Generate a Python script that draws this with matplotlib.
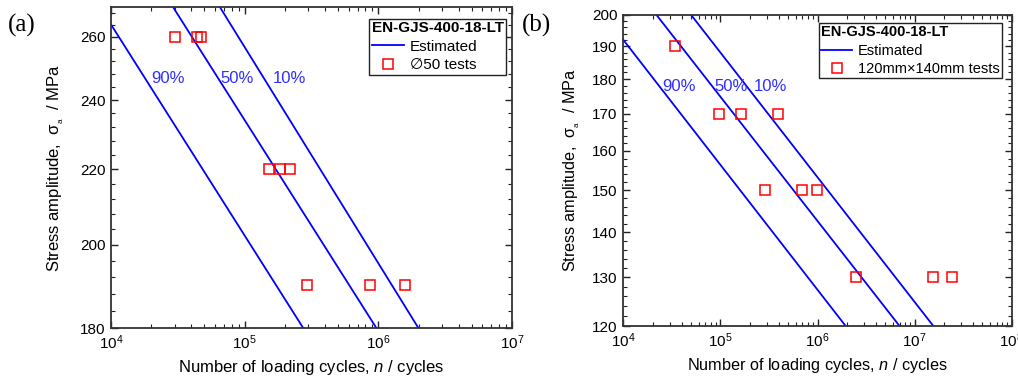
import math
import matplotlib
matplotlib.use("Agg")
import matplotlib.pyplot as plt
from matplotlib.ticker import FixedLocator, MultipleLocator, NullFormatter, LogLocator, FuncFormatter
from matplotlib.lines import Line2D

plt.rcParams['font.family'] = ['Liberation Sans', 'DejaVu Sans']
plt.rcParams['mathtext.fontset'] = 'custom'
plt.rcParams['mathtext.rm'] = 'Liberation Sans'
plt.rcParams['mathtext.it'] = 'Liberation Sans:italic'
plt.rcParams['mathtext.bf'] = 'Liberation Sans:bold'

# ---------------- data ----------------
material = "EN-GJS-400-18-LT"
curve_labels = ["90%", "50%", "10%"]

# panel (a)
a_curve_N = [[1.0e4, 2.75e5], [2.9e4, 9.7e5], [6.5e4, 2.0e6]]
a_curve_S = [[264, 180], [270, 180], [270, 180]]
a_test_N = [3.0e4, 4.4e4, 4.7e4, 1.52e5, 1.84e5, 2.18e5, 2.95e5, 8.7e5, 1.57e6]
a_test_S = [260, 260, 260, 220, 220, 220, 190, 190, 190]
a_test_label = "\u220550 tests"
a_yticks = [180, 200, 220, 240, 260]

# panel (b)
b_curve_N = [[1.0e4, 1.95e6], [2.2e4, 7.0e6], [5.0e4, 1.56e7]]
b_curve_S = [[192, 120], [200, 120], [200, 120]]
b_test_N = [3.4e4, 9.6e4, 1.62e5, 3.9e5, 2.86e5, 7.0e5, 9.9e5, 2.5e6, 1.55e7, 2.4e7]
b_test_S = [190, 170, 170, 170, 150, 150, 150, 130, 130, 130]
b_test_label = "120mm\u00d7140mm tests"
b_yticks = [120, 130, 140, 150, 160, 170, 180, 190, 200]

# label positions (data coords)
a_label_pos = [(2.66e4, 246.5), (8.8e4, 246.5), (2.17e5, 246.5)]
b_label_pos = [(3.75e4, 177.8), (1.29e5, 177.8), (3.24e5, 177.8)]

LINE_C = '#0000ff'
TXT_C = '#2f2fff'
MK_C = '#ff0000'

fig = plt.figure(figsize=(10.18, 3.78), dpi=100)
axA = fig.add_axes([111/1018, 1-328.3/378, (512-111)/1018, (328.3-6.7)/378])
axB = fig.add_axes([623.3/1018, 1-326/378, (1011.7-623.3)/1018, (326-15)/378])


def logfmt(x, pos):
    e = int(round(math.log10(x)))
    return r'$\mathregular{10^{%d}}$' % e


def style(ax, xlim, ylim, yticks, yminor, ylabelpad, fs_tick, fs_label):
    ax.set_xscale('log')
    ax.set_yscale('log')
    ax.set_xlim(*xlim)
    ax.set_ylim(*ylim)
    ax.xaxis.set_major_locator(LogLocator(base=10, numticks=10))
    ax.xaxis.set_minor_locator(LogLocator(base=10, subs=range(2, 10), numticks=20))
    ax.xaxis.set_major_formatter(FuncFormatter(logfmt))
    ax.xaxis.set_minor_formatter(NullFormatter())
    ax.yaxis.set_major_locator(FixedLocator(yticks))
    ax.yaxis.set_minor_locator(MultipleLocator(yminor))
    ax.yaxis.set_major_formatter(FuncFormatter(lambda v, p: '%d' % v))
    ax.yaxis.set_minor_formatter(NullFormatter())
    ax.tick_params(which='both', direction='in', top=True, right=True, colors='#222222',
                   labelcolor='black', labelsize=fs_tick)
    ax.tick_params(which='major', length=5, width=1.0, pad=4)
    ax.tick_params(which='minor', length=3, width=0.8)
    for s in ax.spines.values():
        s.set_linewidth(1.3)
        s.set_color('#333333')
    ax.set_xlabel(r'Number of loading cycles, $\mathit{n}$ / cycles', fontsize=fs_label, labelpad=4)
    ax.set_ylabel('Stress amplitude,  \u03c3$_{_\\mathregular{a}}$  / MPa', fontsize=fs_label,
                  labelpad=ylabelpad)


def draw(ax, cN, cS, tN, tS, tlabel, lpos, legend_anchor, fs_leg):
    for n, s in zip(cN, cS):
        ax.plot(n, s, color=LINE_C, lw=1.3, zorder=2)
    ax.plot(tN, tS, linestyle='none', marker='s', markersize=7.5, markerfacecolor='none',
            markeredgecolor=MK_C, markeredgewidth=1.1, zorder=3)
    for lab, (x, y) in zip(curve_labels, lpos):
        ax.text(x, y, lab, color=TXT_C, fontsize=12, ha='center', va='center', zorder=4)
    handles = [Line2D([], [], color=LINE_C, lw=1.3),
               Line2D([], [], linestyle='none', marker='s', markersize=7.5,
                      markerfacecolor='none', markeredgecolor=MK_C, markeredgewidth=1.1)]
    leg = ax.legend(handles, ['Estimated', tlabel], title=material, loc='upper right',
                    bbox_to_anchor=legend_anchor, borderaxespad=0, fancybox=False,
                    framealpha=1, edgecolor='#222222', fontsize=fs_leg, alignment='left',
                    title_fontproperties={'weight': 'bold', 'size': fs_leg},
                    handlelength=2.1, handletextpad=0.4, labelspacing=0.3,
                    borderpad=0.15)
    leg.get_frame().set_linewidth(1.0)


style(axA, (1e4, 1e7), (180, 270), a_yticks, 4, 10, 11, 12)
draw(axA, a_curve_N, a_curve_S, a_test_N, a_test_S, a_test_label, a_label_pos, (0.985, 0.962), 11)

style(axB, (1e4, 1e8), (120, 200), b_yticks, 2, 7.5, 11, 11.7)
draw(axB, b_curve_N, b_curve_S, b_test_N, b_test_S, b_test_label, b_label_pos, (0.974, 0.974), 10.5)

fig.text(8/1018, 1-25/378, '(a)', family='Liberation Serif', fontsize=18, va='center', ha='left')
fig.text(522/1018, 1-25/378, '(b)', family='Liberation Serif', fontsize=18, va='center', ha='left')

fig.savefig('out.png', dpi=100)
